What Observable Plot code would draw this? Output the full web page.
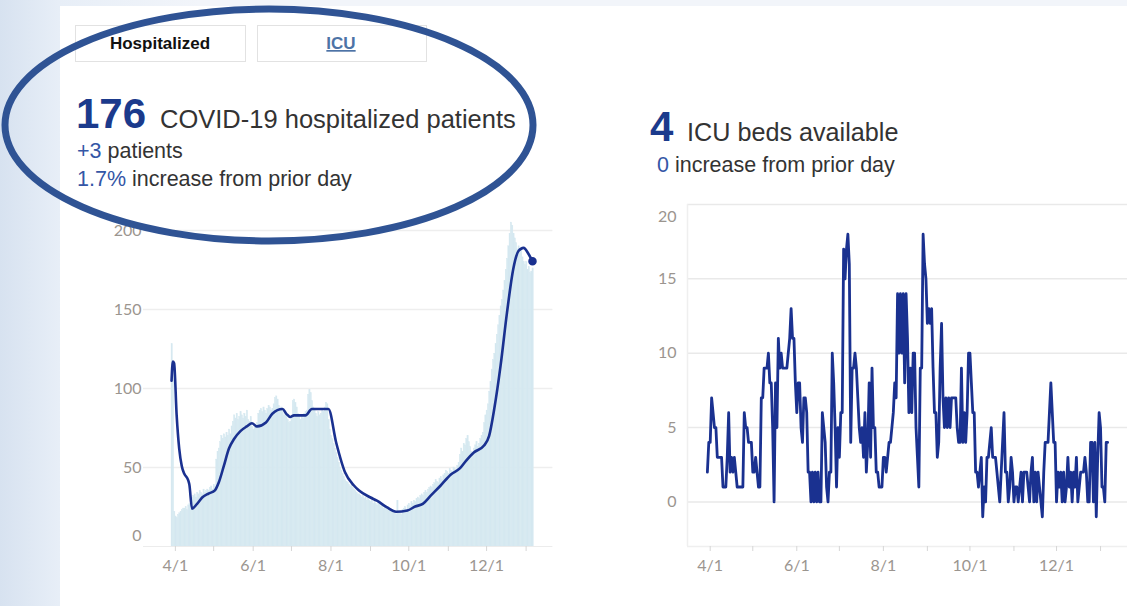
<!DOCTYPE html>
<html>
<head>
<meta charset="utf-8">
<script src="https://cdn.jsdelivr.net/npm/d3@7"></script>
<script src="https://cdn.jsdelivr.net/npm/@observablehq/plot@0.6"></script>
<style>
  html, body { margin: 0; padding: 0; }
  body {
    width: 1127px; height: 606px; overflow: hidden; position: relative;
    background: linear-gradient(to right, #d7e2f0 0px, #e7eef7 58px, #f2f5fa 200px);
  }
  #card { position: absolute; left: 60px; top: 6px; width: 1067px; height: 600px; background: #fff; }
  #left { position: absolute; left: 0; top: 190px; }
  #right { position: absolute; left: 600px; top: 190px; }
  #overlay { position: absolute; left: 0; top: 0; pointer-events: none; }
  svg { overflow: visible; }
</style>
</head>
<body>
<div id="card"></div>
<div id="left"></div>
<div id="right"></div>
<svg id="overlay" width="1127" height="606" font-family="'Liberation Sans', Arial, sans-serif">
  <rect x="75.5" y="25.5" width="170" height="36" fill="#fff" stroke="#e2e2e2"/>
  <rect x="257.5" y="25.5" width="169" height="36" fill="#fff" stroke="#e2e2e2"/>
  <text x="160" y="49" text-anchor="middle" font-size="17" font-weight="bold" fill="#111">Hospitalized</text>
  <text x="341" y="49" text-anchor="middle" font-size="17" font-weight="bold" fill="#4d73a6" text-decoration="underline">ICU</text>

  <text x="76" y="128" font-size="42" font-weight="bold" fill="#1b3a8c">176</text>
  <text x="160" y="128" font-size="25.5" fill="#333">COVID-19 hospitalized patients</text>
  <text x="77" y="158" font-size="21.5" fill="#333"><tspan fill="#3456a6">+3</tspan> patients</text>
  <text x="77" y="186" font-size="21.5" fill="#333"><tspan fill="#3456a6">1.7%</tspan> increase from prior day</text>

  <text x="650" y="141" font-size="42" font-weight="bold" fill="#1b3a8c">4</text>
  <text x="687" y="141" font-size="25.2" fill="#333">ICU beds available</text>
  <text x="657" y="172" font-size="21.5" fill="#333"><tspan fill="#3456a6">0</tspan> increase from prior day</text>

  <ellipse cx="269" cy="125" rx="264" ry="116" fill="none" stroke="#2f5394" stroke-width="7"/>
</svg>
<script>
// ---------------- data ----------------
// Daily hospitalized patients (light bars), starting 2020-03-29
const hospStart = "2020-03-29";
const hospDaily = [
  128, 112, 22, 19, 18, 20, 21,
  22, 23, 24, 24, 25, 23, 26,
  27, 29, 31, 32, 33, 31, 34,
  33, 35, 34, 33, 36, 34, 35,
  36, 35, 37, 38, 36, 39, 38,
  55, 60, 62, 66, 70, 68, 71,
  69, 72, 70, 74, 71, 76, 79,
  83, 81, 84, 80, 82, 85, 83,
  81, 84, 82, 86, 80, 79, 82,
  76, 74, 77, 75, 78, 84, 86,
  87, 85, 88, 86, 84, 87, 89,
  88, 86, 87, 90, 94, 95, 93,
  89, 87, 88, 85, 83, 86, 84,
  80, 78, 79, 81, 92, 93, 91,
  88, 84, 82, 80, 83, 81, 84,
  85, 86, 96, 99, 97, 92, 88,
  86, 84, 82, 85, 83, 84, 86,
  85, 88, 91, 90, 80, 74, 70,
  68, 65, 62, 59, 56, 53, 50,
  48, 46, 44, 42, 41, 40, 39,
  38, 39, 37, 36, 35, 34, 33,
  33, 32, 31, 32, 30, 31, 29,
  30, 29, 28, 29, 27, 28, 27,
  26, 28, 27, 25, 26, 24, 25,
  24, 25, 23, 24, 22, 23, 21,
  22, 20, 29, 21, 22, 20, 23,
  24, 25, 23, 26, 27, 25, 28,
  27, 29, 28, 30, 31, 30, 32,
  33, 32, 34, 35, 34, 36, 37,
  38, 37, 39, 40, 42, 41, 40,
  43, 44, 42, 45, 46, 48, 47,
  46, 49, 48, 47, 50, 49, 48,
  51, 53, 58, 62, 60, 65, 64,
  68, 70, 66, 63, 60, 58, 62,
  64, 66, 63, 65, 68, 70, 72,
  78, 83, 86, 90, 98, 104, 112,
  118, 122, 128, 134, 140, 146, 152,
  156, 162, 168, 175, 182, 190, 198,
  205, 203, 198, 195, 192, 188, 190,
  186, 188, 183, 180, 178, 180, 175,
  177, 173, 174, 176
];

// Rolling average line (dark blue)
const hospAvgDates = [
  "2020-03-29","2020-03-30","2020-03-31","2020-04-02","2020-04-04","2020-04-06","2020-04-08",
  "2020-04-11","2020-04-12","2020-04-14","2020-04-18","2020-04-22","2020-04-27","2020-05-02",
  "2020-05-05","2020-05-09","2020-05-13","2020-05-17","2020-05-22","2020-05-27","2020-05-31",
  "2020-06-04","2020-06-11","2020-06-16","2020-06-24","2020-06-27","2020-06-30","2020-07-03",
  "2020-07-12","2020-07-17","2020-07-30","2020-08-05","2020-08-12","2020-08-19","2020-08-23",
  "2020-09-01","2020-09-06","2020-09-14","2020-09-21","2020-09-30","2020-10-06","2020-10-12",
  "2020-10-18","2020-10-26","2020-11-03","2020-11-10","2020-11-15","2020-11-21","2020-11-29",
  "2020-12-03","2020-12-07","2020-12-12","2020-12-17","2020-12-22","2020-12-26","2020-12-30",
  "2021-01-03","2021-01-06"
];
const hospAvgValues = [
  105, 117, 116, 83, 62, 51, 46,
  42, 39, 24, 27, 31, 33.5, 35.5,
  40.5, 51, 62, 68, 73, 76, 78,
  76, 78.5, 84, 87, 84, 82, 83,
  83, 87, 87, 66, 47, 38.6, 35.4,
  31, 29, 24.7, 22, 22.8, 25.3, 27,
  32, 38.6, 45.6, 49.4, 54.4, 59.5, 63.9,
  70, 87, 114.6, 148, 176, 187, 189,
  185, 180.5
];

// ICU beds available, daily, starting 2020-03-30
const icuStart = "2020-03-30";
const icuBeds = [
  2,4,4,7,6,5,5,3,3,3,
  3,1,1,1,3,6,2,3,2,3,
  2,1,1,1,1,1,6,5,5,4,
  4,4,2,2,3,2,1,1,7,7,
  9,9,9,10,8,8,5,0,8,5,
  11,9,10,9,9,9,9,10,11,13,
  11,11,8,6,8,8,5,4,7,7,
  6,2,2,0,2,0,2,0,2,0,
  0,6,5,4,1,0,2,2,10,8,
  5,1,5,3,6,6,17,15,17,18,
  16,4,9,9,10,9,7,5,4,5,
  3,6,2,4,8,3,9,5,5,2,
  2,1,1,1,3,3,2,3,4,4,
  5,6,8,7,14,10,14,10,14,8,
  14,11,6,9,6,10,10,5,3,1,
  9,9,18,16,15,12,13,12,13,9,
  6,6,3,4,9,12,7,5,7,5,
  7,5,7,7,7,7,5,4,4,9,
  4,6,4,6,10,10,8,6,6,2,
  2,1,2,3,-1,1,0,3,3,4,
  5,3,3,3,2,1,0,2,4,6,
  2,2,0,1,3,2,0,1,1,0,
  1,2,0,2,2,2,1,0,2,3,
  0,2,0,2,1,0,-1,2,4,4,
  4,6,8,6,4,4,0,2,1,2,
  0,2,0,1,3,1,2,0,2,1,
  3,0,1,2,2,2,3,2,0,0,
  4,4,0,4,-1,3,6,5,1,1,
  0,4,4
];

// Axis ticks
const monthTicks = ["2020-04-01","2020-05-01","2020-06-01","2020-07-01","2020-08-01","2020-09-01",
                    "2020-10-01","2020-11-01","2020-12-01","2021-01-01"];
const xLabelTicks = ["2020-04-01","2020-06-01","2020-08-01","2020-10-01","2020-12-01"];
const hospYTicks = [0, 50, 100, 150, 200];
const icuYTicks = [0, 5, 10, 15, 20];

// ---------------- tables ----------------
const parse = s => new Date(s + "T00:00:00Z");
const hospBars = hospDaily.map((v, i) => {
  const d = d3.utcDay.offset(parse(hospStart), i);
  return {x1: d, x2: d3.utcDay.offset(d, 1), value: v};
});
const hospAvg = hospAvgDates.map((s, i) => ({date: parse(s), value: hospAvgValues[i]}));
const icu = icuBeds.map((v, i) => ({date: d3.utcDay.offset(parse(icuStart), i), value: v}));
const months = monthTicks.map(parse);
const labelMonths = xLabelTicks.map(parse);
const fmt = d3.utcFormat("%-m/%-d");

const lineColor = "#1a3190";
const barColor = "#d5e8f0";
const axisStyle = {
  background: "transparent",
  fontFamily: "Lato, 'Open Sans', sans-serif",
  fontSize: "16px",
  color: "#9b958f",
  overflow: "visible"
};

// ---------------- left chart ----------------
const left = Plot.plot({
  width: 570, height: 416,
  marginLeft: 143, marginRight: 17.6, marginTop: 40, marginBottom: 60,
  x: {type: "utc", domain: [parse("2020-03-07"), parse("2021-01-22")]},
  y: {domain: [0, 200]},
  style: axisStyle,
  marks: [
    Plot.gridY(hospYTicks.slice(1), {stroke: "#eeeeee", strokeOpacity: 1, strokeWidth: 1.5}),
    Plot.rectY(hospBars, {x1: "x1", x2: "x2", y: "value", fill: barColor, stroke: barColor, strokeWidth: 0.4, inset: 0}),
    Plot.ruleY([0], {stroke: "#ececec"}),
    Plot.axisY(hospYTicks.slice(1), {tickSize: 0, tickPadding: 2, label: null}),
    Plot.axisY([hospYTicks[0]], {tickSize: 0, tickPadding: 2, dy: -11, label: null}),
    Plot.axisX(months, {tickSize: 5, tickPadding: 0, tickFormat: () => "", stroke: "#d6d6d6", label: null}),
    Plot.axisX(labelMonths, {tickSize: 0, tickPadding: 13, tickFormat: fmt, label: null}),
    Plot.lineY(hospAvg, {x: "date", y: "value", stroke: lineColor, strokeWidth: 2.6, curve: "monotone-x"}),
    Plot.dot(hospAvg.slice(-1), {x: "date", y: "value", r: 3.5, fill: lineColor, stroke: lineColor})
  ]
});
document.getElementById("left").appendChild(left);

// ---------------- right chart ----------------
const right = Plot.plot({
  width: 527, height: 416,
  marginLeft: 87, marginRight: 0, marginTop: 14, marginBottom: 60,
  x: {type: "utc", domain: [parse("2020-03-16"), parse("2021-01-20")]},
  y: {domain: [-3, 20]},
  style: axisStyle,
  marks: [
    Plot.gridY(icuYTicks, {stroke: "#e9e9e9", strokeOpacity: 1, strokeWidth: 1.5}),
    Plot.ruleY([-3], {stroke: "#efefef", strokeWidth: 1.5}),
    Plot.ruleX([parse("2020-03-16")], {stroke: "#efefef", strokeWidth: 1.5}),
    Plot.axisY(icuYTicks.slice(0, 4), {tickSize: 0, tickPadding: 11, label: null}),
    Plot.axisY([icuYTicks[4]], {tickSize: 0, tickPadding: 11, dy: 12, label: null}),
    Plot.axisX(months, {tickSize: 5, tickPadding: 0, tickFormat: () => "", stroke: "#d6d6d6", label: null}),
    Plot.axisX(labelMonths, {tickSize: 0, tickPadding: 13, tickFormat: fmt, label: null}),
    Plot.lineY(icu, {x: "date", y: "value", stroke: lineColor, strokeWidth: 2.8, strokeLinejoin: "round"})
  ]
});
document.getElementById("right").appendChild(right);
</script>
</body>
</html>
